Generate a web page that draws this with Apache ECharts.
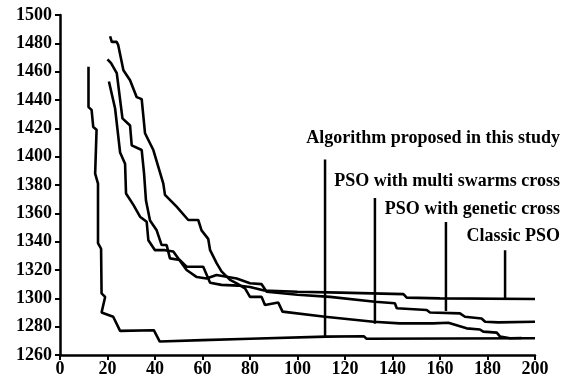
<!DOCTYPE html>
<html>
<head>
<meta charset="utf-8">
<script src="https://cdn.jsdelivr.net/npm/echarts@6/dist/echarts.min.js"></script>
<style>
html,body{margin:0;padding:0;background:#fff;}
#chart{width:564px;height:384px;}
</style>
</head>
<body>
<div id="chart"></div>
<script>
// Series data [iteration, fitness]
const algorithmProposed = [[12,1463.5],[12,1435],[13.3,1433],[14,1421],[15.4,1419],[14.8,1388],[16,1381],[16,1339],[17.3,1335],[17.5,1303.5],[19,1301],[17.5,1290],[22.4,1287],[25.3,1277],[39.5,1277.5],[42,1269.5],[60,1270.5],[80,1271.5],[112,1273],[128,1273.2],[129,1271.5],[200,1271.8]];
const classicPSO = [[20,1468.7],[21.5,1466],[23.9,1459],[26.3,1427],[29.5,1422],[30.2,1408],[34.4,1404.7],[35.4,1388],[36.2,1369],[37.9,1355],[40.7,1348],[42.8,1337.6],[44.9,1337.6],[46.3,1328.2],[50.5,1327],[53.3,1322.3],[60.3,1322.3],[63.2,1311],[68,1309.5],[75,1309],[80,1308],[86,1305.5],[100,1304.7],[118,1304],[144.6,1303],[146,1300.5],[160,1300],[200,1299.5]];
const geneticCrossPSO = [[20.6,1453],[23.2,1434],[25.3,1403],[27.4,1395],[27.8,1374],[30.9,1366],[33.7,1357.6],[36.5,1354],[37.2,1341],[40,1334],[44.2,1334],[47.7,1333],[53.3,1320],[57.6,1315],[61.7,1314],[65.9,1316.5],[74.4,1314],[80,1310.6],[84.9,1310],[87,1304.7],[100,1302.5],[113.7,1301],[132.6,1297.6],[141,1296.5],[141.8,1293],[154.4,1291.8],[155.8,1290],[168.4,1289.4],[170.5,1287],[177.5,1285.8],[179,1283.5],[184.5,1283],[200,1283.5]];
const multiSwarmsPSO = [[21.1,1485],[21.8,1481],[23.9,1481],[24.5,1478.8],[26.7,1461],[29.5,1454],[32.3,1442],[34.4,1440.6],[35.8,1416.5],[39.3,1404.7],[43.5,1381],[44.2,1373],[49.1,1364.7],[54,1355.3],[58.2,1355.3],[59.6,1348],[62.4,1342],[63.2,1334],[66,1324.7],[68,1319],[71.6,1313],[74.4,1310.6],[77.9,1307],[80,1301],[84.9,1301],[86.3,1295.3],[91.9,1297],[93.7,1290.6],[111.6,1287],[132,1283.5],[143,1282.3],[157,1282.3],[163.5,1282.8],[171.2,1278.8],[176.8,1278],[178.2,1276.5],[183.9,1275.8],[185.3,1273],[189.5,1271.8],[194.4,1272]];

// Annotation leader lines
const annLabels = ['Algorithm proposed in this study','PSO with multi swarms cross','PSO with genetic cross','Classic PSO'];
const annX = [111.6, 132.6, 162.5, 187.4];
const annTop = [1398, 1370.8, 1353.9, 1334];
const annBottom = [1272.7, 1282, 1291, 1299.5];

// Axis ticks
const xMin = 0, xMax = 200, xStep = 20;
const yMin = 1260, yMax = 1500, yStep = 20;

const font = "'Liberation Serif','Times New Roman',serif";
const chart = echarts.init(document.getElementById('chart'));

const lineStyle = {color:'#000', width:2.6};
const series = [algorithmProposed, classicPSO, geneticCrossPSO, multiSwarmsPSO].map(d => ({
  type:'line', data:d, showSymbol:false, lineStyle:lineStyle, silent:true, animation:false
}));
annX.forEach((x,i) => {
  series.push({type:'line', data:[[x,annTop[i]],[x,annBottom[i]]], showSymbol:false,
    lineStyle:{color:'#000', width:2.5}, silent:true, animation:false});
});

const textY = [138, 181, 209, 236];
chart.setOption({
  animation:false,
  backgroundColor:'#fff',
  grid:{left:60, right:29, top:15, bottom:29, containLabel:false, outerBoundsMode:'none'},
  xAxis:{type:'value', min:xMin, max:xMax, interval:xStep,
    axisLine:{show:true, lineStyle:{color:'#000', width:2.5}},
    axisTick:{show:true, length:5, lineStyle:{color:'#000', width:2}},
    splitLine:{show:false},
    axisLabel:{color:'#000', fontFamily:font, fontWeight:'bold', fontSize:18, margin:5,
      formatter: v => String(v)}},
  yAxis:{type:'value', min:yMin, max:yMax, interval:yStep,
    axisLine:{show:true, lineStyle:{color:'#000', width:2.5}},
    axisTick:{show:true, length:5, lineStyle:{color:'#000', width:2}},
    splitLine:{show:false},
    axisLabel:{color:'#000', fontFamily:font, fontWeight:'bold', fontSize:18, margin:8,
      formatter: v => String(v)}},
  series:series,
  graphic: annLabels.map((t,i) => ({
    type:'text', right:4, top:textY[i]-9, silent:true,
    style:{text:t, fill:'#000', font:'bold 18px ' + font, textAlign:'right'}
  }))
});
</script>
</body>
</html>
